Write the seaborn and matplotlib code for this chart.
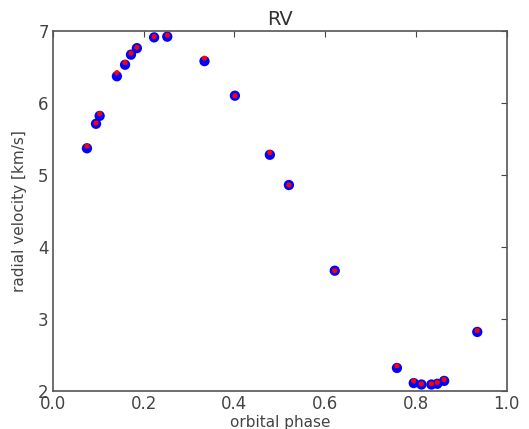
import matplotlib
matplotlib.use("Agg")
import matplotlib.pyplot as plt
import seaborn as sns
import pandas as pd

phase = [0.075, 0.095, 0.103, 0.141, 0.159, 0.172, 0.185, 0.223, 0.252,
         0.334, 0.401, 0.478, 0.520, 0.621, 0.758, 0.795, 0.812, 0.834,
         0.847, 0.862, 0.935]
rv_model = [5.37, 5.71, 5.82, 6.37, 6.53, 6.67, 6.76, 6.91, 6.92,
            6.58, 6.10, 5.28, 4.86, 3.67, 2.32, 2.11, 2.09, 2.09,
            2.10, 2.14, 2.82]
rv_obs = [5.40, 5.72, 5.85, 6.42, 6.56, 6.69, 6.77, 6.92, 6.94,
          6.62, 6.10, 5.31, 4.86, 3.67, 2.35, 2.14, 2.10, 2.10,
          2.12, 2.16, 2.84]

df = pd.DataFrame({"phase": phase, "model": rv_model, "obs": rv_obs})

sns.set_style("white")
plt.rcParams['font.family'] = ['DejaVu Sans']

fig = plt.figure(figsize=(5.29, 4.29), dpi=100)
ax = fig.add_axes([0.100, 0.0886, 0.858, 0.8394])

sns.scatterplot(data=df, x="phase", y="model", ax=ax, color=(0, 0, 1),
                s=55, edgecolor="none", zorder=2)
sns.scatterplot(data=df, x="phase", y="obs", ax=ax, color=(1, 0, 0),
                s=14, edgecolor="none", zorder=3)

ax.set_xlim(0, 1)
ax.set_ylim(2, 7)
ax.set_xticks([0.0, 0.2, 0.4, 0.6, 0.8, 1.0])
ax.set_xticklabels(["0.0", "0.2", "0.4", "0.6", "0.8", "1.0"])
ax.set_yticks([2, 3, 4, 5, 6, 7])
ax.set_yticklabels(["2", "3", "4", "5", "6", "7"])
ax.tick_params(direction="in", top=True, right=True, length=4, width=0.8,
               labelsize=12, colors="#444444", pad=3)
for sp in ax.spines.values():
    sp.set_visible(True)
    sp.set_color("#555555")
    sp.set_linewidth(1.2)
ax.set_xlabel("orbital phase", fontsize=11, color="#444444", labelpad=1)
ax.set_ylabel("radial velocity [km/s]", fontsize=11, color="#444444", labelpad=8)
ax.set_title("RV", fontsize=14, color="#333333", pad=4)

fig.savefig("out.png", dpi=100)
